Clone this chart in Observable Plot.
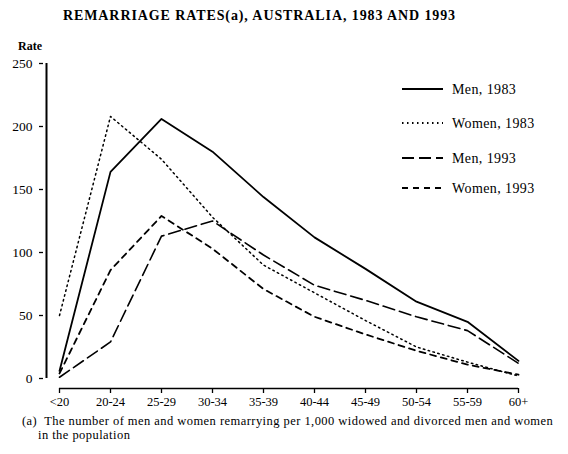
<!DOCTYPE html>
<html><head><meta charset="utf-8">
<script src="https://cdn.jsdelivr.net/npm/d3@7"></script>
<script src="https://cdn.jsdelivr.net/npm/@observablehq/plot@0.6"></script>
<style>
body{margin:0;background:#fff;font-family:"Liberation Serif",serif;color:#000;}
#wrap{position:relative;width:568px;height:454px;overflow:hidden;background:#fff;}
#title{position:absolute;left:63px;top:8px;font-weight:bold;font-size:14px;letter-spacing:0.9px;white-space:nowrap;}
#chart{position:absolute;left:0;top:30px;}
#caption{position:absolute;left:22px;top:414px;font-size:12.5px;letter-spacing:0.45px;line-height:14px;white-space:nowrap;}
#caption .l2{padding-left:16px;}
</style>
</head><body>
<div id="wrap">
  <div id="title">REMARRIAGE RATES(a), AUSTRALIA, 1983 AND 1993</div>
  <div id="chart"></div>
  <div id="caption"><div>(a)&nbsp; The number of men and women remarrying per 1,000 widowed and divorced men and women</div><div class="l2">in the population</div></div>
</div>
<script>
const ages = ["<20","20-24","25-29","30-34","35-39","40-44","45-49","50-54","55-59","60+"];
const men1983   = [6, 164, 206, 180, 144, 112, 87, 61, 45, 14];
const women1983 = [50, 208, 174, 128, 90, 68, 46, 25, 13, 2];
const men1993   = [1, 29, 113, 125, 98, 74, 62, 49, 38, 12];
const women1993 = [4, 86, 129, 103, 71, 49, 35, 22, 11, 3];
const seriesNames = ["Men, 1983", "Women, 1983", "Men, 1993", "Women, 1993"];
const yTicks = [0, 50, 100, 150, 200, 250];
const yLabel = "Rate";

const seriesValues = [men1983, women1983, men1993, women1993];
const rows = [];
seriesNames.forEach((s, k) => ages.forEach((a, i) => rows.push({age: a, rate: seriesValues[k][i], series: s})));

const lineStyle = {
  "Men, 1983":   {dash: null,      width: 1.8},
  "Women, 1983": {dash: "1.5,3.5", width: 1.5},
  "Men, 1993":   {dash: "12,5",    width: 1.6},
  "Women, 1993": {dash: "6,5",     width: 1.8}
};

const plot = Plot.plot({
  width: 568, height: 380,
  marginTop: 33, marginBottom: 22, marginLeft: 43, marginRight: 48,
  insetLeft: 13, insetBottom: 10,
  x: {type: "point", domain: ages, padding: 0, label: null},
  y: {domain: [0, 250], label: null},
  style: {fontFamily: "Liberation Serif", fontSize: "12px", color: "#000", background: "#fff", overflow: "visible"},
  marks: [
    Plot.ruleX([ages[0]], {y1: 0, y2: 250, dx: -13, stroke: "#000", strokeWidth: 2}),
    Plot.ruleY([0], {x1: () => ages[0], x2: () => ages[ages.length - 1], dy: 10, stroke: "#000", strokeWidth: 1.5}),
    Plot.axisY(yTicks, {anchor: "left", tickSize: 4, tickPadding: 7, fontSize: 13.5, letterSpacing: "0.8px", label: null, strokeWidth: 1.3}),
    Plot.axisX(ages, {anchor: "bottom", tickSize: 5, tickPadding: 4, fontSize: 12.5, label: null, strokeWidth: 1.3}),
    ...seriesNames.map(s => Plot.line(rows.filter(r => r.series === s), {
      x: "age", y: "rate", stroke: "#000",
      strokeWidth: lineStyle[s].width,
      strokeDasharray: lineStyle[s].dash || undefined
    }))
  ]
});
document.getElementById("chart").appendChild(plot);

const svg = d3.select(plot);
svg.append("text").attr("x", 30).attr("y", 20).attr("text-anchor", "middle")
  .attr("font-weight", "bold").attr("font-size", 12).attr("fill", "#000").text(yLabel);

const legendRows = [59, 93, 128, 158];
const lg = svg.append("g").attr("text-anchor", "start");
seriesNames.forEach((s, k) => {
  lg.append("line").attr("x1", 402).attr("x2", 443).attr("y1", legendRows[k]).attr("y2", legendRows[k])
    .attr("stroke", "#000").attr("stroke-width", lineStyle[s].width + 0.4)
    .attr("stroke-dasharray", lineStyle[s].dash);
  lg.append("text").attr("x", 452).attr("y", legendRows[k]).attr("dy", "0.35em")
    .attr("font-size", 14).attr("letter-spacing", "0.4px").attr("fill", "#000").text(s);
});
</script>
</body></html>
